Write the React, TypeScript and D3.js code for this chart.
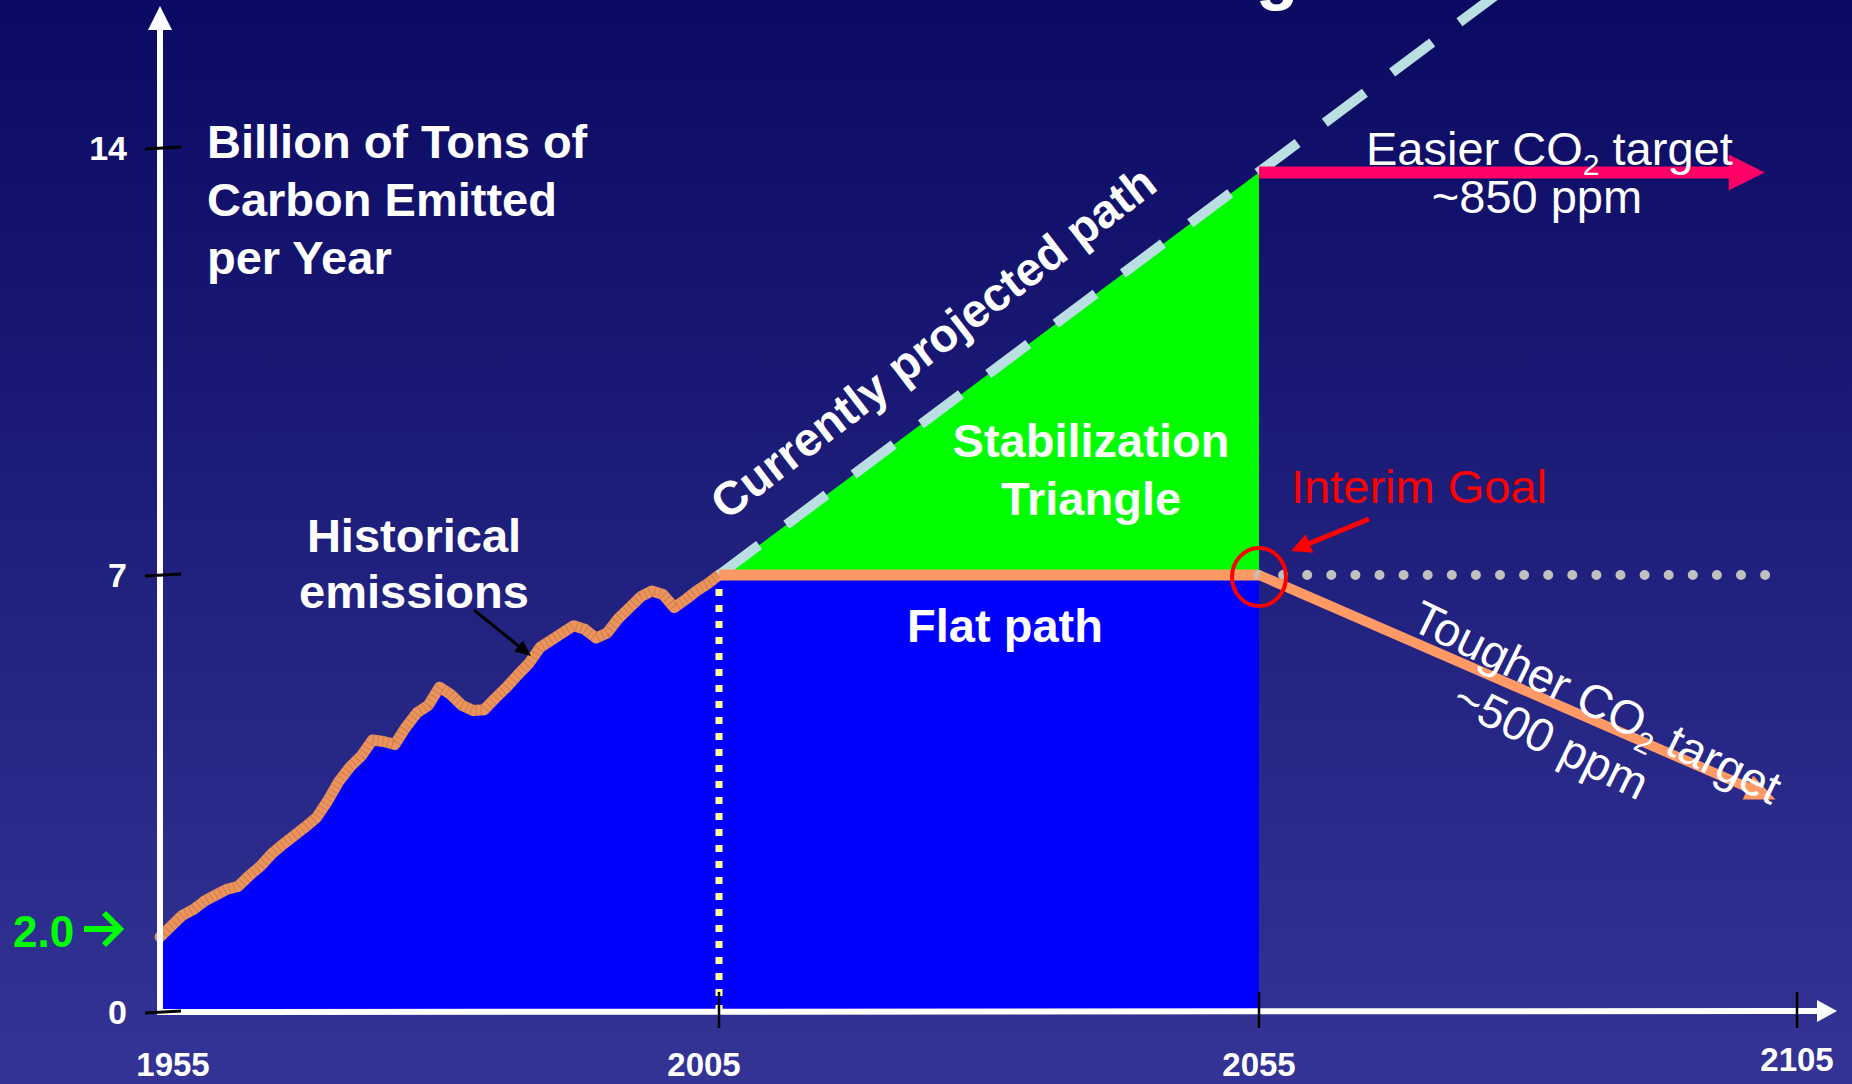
import * as d3 from "d3";
import { useEffect, useRef } from "react";

// годы и выбросы (млрд т углерода в год)
const years = [
  1955, 1956, 1957, 1958, 1959, 1960, 1961, 1962, 1963, 1964, 1965, 1966, 1967,
  1968, 1969, 1970, 1971, 1972, 1973, 1974, 1975, 1976, 1977, 1978, 1979, 1980,
  1981, 1982, 1983, 1984, 1985, 1986, 1987, 1988, 1989, 1990, 1991, 1992, 1993,
  1994, 1995, 1996, 1997, 1998, 1999, 2000, 2001, 2002, 2003, 2004, 2005,
];
const emissions = [
  2.0, 2.15, 2.3, 2.38, 2.5, 2.58, 2.66, 2.7, 2.85, 2.98, 3.15, 3.28, 3.4, 3.52,
  3.65, 3.88, 4.15, 4.35, 4.5, 4.72, 4.7, 4.66, 4.9, 5.1, 5.2, 5.45, 5.35, 5.2,
  5.13, 5.14, 5.3, 5.45, 5.62, 5.78, 6.0, 6.1, 6.2, 6.3, 6.25, 6.13, 6.2, 6.4,
  6.55, 6.7, 6.78, 6.73, 6.55, 6.66, 6.78, 6.88, 7.0,
];

const xTicks = [1955, 2005, 2055, 2105];
const yTicks = [0, 7, 14];
const startValue = 2.0;

const flatPath = [[2005, 7], [2055, 7]];
const projectedPath = [[2005, 7], [2080, 16.9]];
const triangle = [[2005, 7], [2055, 13.6], [2055, 7]];
const easierTarget = [[2055, 13.6], [2102, 13.6]];
const interimLevel = [[2055, 7], [2102.1, 7]];
const tougherTarget = [[2055, 7], [2103, 3.9]];

const W = 1852;
const H = 1084;
const FONT = "'Liberation Sans', Arial, sans-serif";

const ChartDraw = () => {
  const chartRef = useRef(null);

  useEffect(() => {
    const svg = d3.select(chartRef.current);
    svg.selectAll("*").remove();

    // шкалы: слайд нарисован от руки, поэтому оси кусочно-линейные
    const x = d3.scaleLinear().domain(xTicks).range([160, 719, 1259, 1797]);
    const y = d3.scaleLinear().domain([0, 2, 7, 14]).range([1012, 937, 575, 148]);

    const defs = svg.append("defs");
    const grad = defs.append("linearGradient").attr("id", "bg").attr("x1", 0).attr("y1", 0).attr("x2", 0).attr("y2", 1);
    grad.append("stop").attr("offset", "0%").attr("stop-color", "#0a0a62");
    grad.append("stop").attr("offset", "100%").attr("stop-color", "#343497");

    svg.append("rect").attr("width", W).attr("height", H).attr("fill", "url(#bg)");

    // обрезанный заголовок слайда (видна только нижняя часть "g")
    svg.append("text")
      .attr("x", 1357).attr("y", -4)
      .attr("text-anchor", "end")
      .style("font", `bold 70px ${FONT}`)
      .attr("fill", "white")
      .text("The Stabilization Triangle");

    const pts = years.map((yr, i) => [yr, emissions[i]]);

    const area = d3.area().x(d => x(d[0])).y0(y(0)).y1(d => y(d[1]));
    const line = d3.line().x(d => x(d[0])).y(d => y(d[1]));

    svg.append("path").attr("d", area(pts)).attr("fill", "#0000ff");
    svg.append("path").attr("d", area(flatPath)).attr("fill", "#0000ff");
    svg.append("path").attr("d", line(triangle) + "Z").attr("fill", "#00ff00");

    // пунктир 2005
    svg.append("line")
      .attr("x1", x(2005)).attr("x2", x(2005))
      .attr("y1", y(7) + 14).attr("y2", y(0) + 6)
      .attr("stroke", "#ffff99").attr("stroke-width", 7)
      .attr("stroke-dasharray", "7 9");

    // исторические выбросы
    svg.append("path").attr("d", line(pts))
      .attr("fill", "none").attr("stroke", "#ea935c").attr("stroke-width", 11)
      .attr("stroke-linejoin", "round").attr("stroke-linecap", "round");
    svg.append("path").attr("d", line(pts))
      .attr("fill", "none").attr("stroke", "#b0643a").attr("stroke-width", 11)
      .attr("stroke-dasharray", "1 4").attr("opacity", 0.45);

    // прогноз
    svg.append("path").attr("d", line(projectedPath))
      .attr("fill", "none").attr("stroke", "#b9dfe2").attr("stroke-width", 10)
      .attr("stroke-dasharray", "50 34");

    svg.append("path").attr("d", line(flatPath))
      .attr("fill", "none").attr("stroke", "#ff9966").attr("stroke-width", 11);

    const arrow = (p0, p1, color, width, headLen, headHalf) => {
      const dx = p1[0] - p0[0], dy = p1[1] - p0[1];
      const L = Math.hypot(dx, dy);
      const ux = dx / L, uy = dy / L;
      const bx = p1[0] - ux * headLen, by = p1[1] - uy * headLen;
      svg.append("line")
        .attr("x1", p0[0]).attr("y1", p0[1])
        .attr("x2", bx + ux * 2).attr("y2", by + uy * 2)
        .attr("stroke", color).attr("stroke-width", width);
      svg.append("polygon")
        .attr("points", `${p1[0]},${p1[1]} ${bx - uy * headHalf},${by + ux * headHalf} ${bx + uy * headHalf},${by - ux * headHalf}`)
        .attr("fill", color);
    };
    const px = d => [x(d[0]), y(d[1])];

    arrow(px(easierTarget[0]), px(easierTarget[1]), "#ff0066", 12, 36, 18);

    svg.append("path").attr("d", line(interimLevel))
      .attr("fill", "none").attr("stroke", "#c0c0c0").attr("stroke-width", 10)
      .attr("stroke-linecap", "round").attr("stroke-dasharray", "0 24.1");

    arrow(px(tougherTarget[0]), px(tougherTarget[1]), "#ff9966", 10, 30, 13);

    // оси
    arrow([160, y(0) + 3], [160, 6], "white", 6, 24, 12);
    arrow([157, y(0)], [1837, y(0) - 1], "white", 6, 20, 11);

    yTicks.forEach(v => {
      svg.append("line")
        .attr("x1", 145).attr("x2", 181)
        .attr("y1", y(v) + 1).attr("y2", y(v) - 1)
        .attr("stroke", "black").attr("stroke-width", 3);
      svg.append("text")
        .attr("x", 127).attr("y", y(v) + 12)
        .attr("text-anchor", "end")
        .style("font", `bold 34px ${FONT}`).attr("fill", "white")
        .text(v);
    });
    xTicks.slice(1).forEach(t => {
      svg.append("line")
        .attr("x1", x(t)).attr("x2", x(t))
        .attr("y1", y(0) - 20).attr("y2", y(0) + 16)
        .attr("stroke", "black").attr("stroke-width", 2.5);
    });
    // подписи лет на слайде чуть сдвинуты относительно делений
    const shift = { 1955: 13, 2005: -15, 2055: 0, 2105: 0 };
    xTicks.forEach(t => {
      svg.append("text")
        .attr("x", x(t) + shift[t]).attr("y", t === 2105 ? 1071 : 1076)
        .attr("text-anchor", "middle")
        .style("font", `bold 33px ${FONT}`).attr("fill", "white")
        .text(t);
    });

    svg.append("text")
      .attr("x", 13).attr("y", y(startValue) + 10)
      .style("font", `bold 44px ${FONT}`).attr("fill", "#00ff00")
      .text(startValue.toFixed(1));
    svg.append("path")
      .attr("d", `M84,${y(startValue) - 8}H119M104,${y(startValue) - 24}L120,${y(startValue) - 8}L104,${y(startValue) + 8}`)
      .attr("fill", "none").attr("stroke", "#00ff00").attr("stroke-width", 6);

    // подписи
    const label = (lines, xx, yy, opts = {}) => {
      const t = svg.append("text")
        .attr("text-anchor", opts.anchor || "start")
        .style("font", `${opts.weight || "bold"} ${opts.size || 46}px ${FONT}`)
        .attr("fill", opts.color || "white");
      lines.forEach((s, i) => {
        t.append("tspan").attr("x", xx).attr("y", yy + i * (opts.lh || 58)).text(s);
      });
      return t;
    };

    label(["Billion of Tons of", "Carbon Emitted", "per Year"], 207, 158, { size: 47 });
    label(["Historical", "emissions"], 414, 552, { anchor: "middle", lh: 56, size: 47 });
    label(["Stabilization", "Triangle"], 1091, 457, { anchor: "middle", size: 47 });
    label(["Flat path"], 1005, 642, { anchor: "middle", size: 47 });
    label(["Interim Goal"], 1291, 503, { weight: "normal", color: "#ff0000", size: 47 });

    svg.append("text")
      .attr("transform", "translate(933,342) rotate(-37.5)")
      .attr("text-anchor", "middle").attr("dy", "0.35em")
      .style("font", `bold 47px ${FONT}`).attr("fill", "white")
      .text("Currently projected path");

    const co2 = (sel, after) => {
      sel.append("tspan").text("CO");
      sel.append("tspan").attr("dy", 10).style("font-size", "30px").text("2");
      sel.append("tspan").attr("dy", -10).text(after);
    };

    const easier = svg.append("text")
      .attr("x", 1366).attr("y", 165)
      .style("font", `normal 47px ${FONT}`).attr("fill", "white");
    easier.append("tspan").text("Easier ");
    co2(easier, " target");
    label(["~850 ppm"], 1537, 213, { anchor: "middle", weight: "normal", size: 47 });

    const tougher = svg.append("text")
      .attr("transform", "translate(1597,702) rotate(26)")
      .attr("text-anchor", "middle").attr("dy", "0.35em")
      .style("font", `normal 47px ${FONT}`).attr("fill", "white");
    tougher.append("tspan").text("Tougher ");
    co2(tougher, " target");
    svg.append("text")
      .attr("transform", "translate(1551,740) rotate(26)")
      .attr("text-anchor", "middle").attr("dy", "0.35em")
      .style("font", `normal 47px ${FONT}`).attr("fill", "white")
      .text("~500 ppm");

    // стрелка к кривой и отметка промежуточной цели
    arrow([474, 610], [531, 656], "black", 3, 16, 7);
    svg.append("ellipse")
      .attr("cx", x(2055)).attr("cy", y(7) + 2)
      .attr("rx", 27).attr("ry", 29)
      .attr("fill", "none").attr("stroke", "#ff0000").attr("stroke-width", 4);
    arrow([x(2055) + 110, y(7) - 56], [x(2055) + 32, y(7) - 24], "#ff0000", 5, 20, 10);
  }, []);

  return <svg ref={chartRef} width={W} height={H} style={{ position: "absolute", left: 0, top: 0 }}></svg>;
};

export default function App() {
  return <ChartDraw />;
}
